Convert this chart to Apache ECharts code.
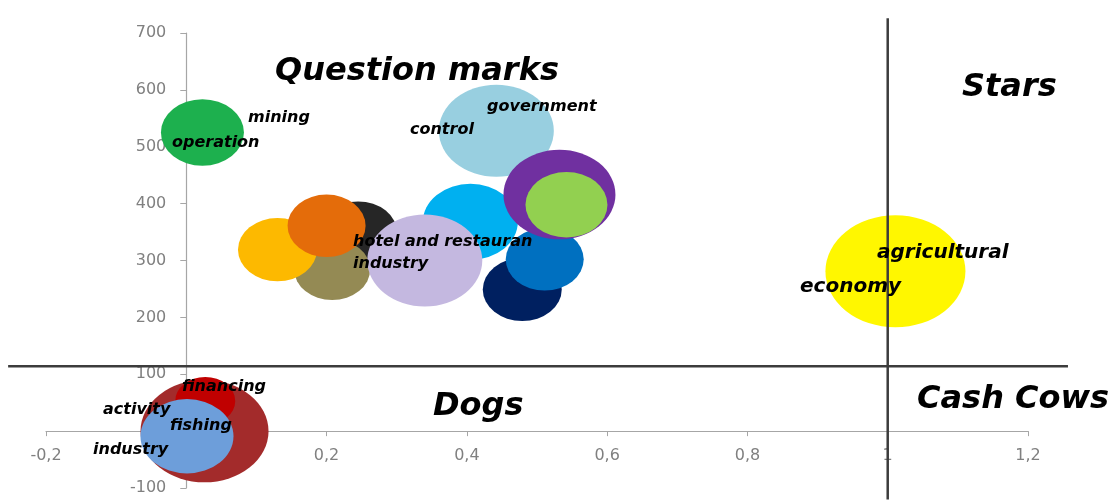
<!DOCTYPE html>
<html>
<head>
<meta charset="utf-8">
<script src="https://cdn.jsdelivr.net/npm/echarts@6/dist/echarts.min.js"></script>
<style>
html,body{margin:0;padding:0;background:#fff;}
#main{width:1114px;height:500px;}
</style>
</head>
<body>
<div id="main"></div>
<script>
// ---- data (drawn bottom to top) ----
const bubbleNames = [
  'government control', 'sector B', 'sector C', 'sector D', 'sector E', 'sector F',
  'sector G', 'sector H', 'sector I', 'sector J', 'hotel and restaurant industry',
  'mining operation', 'agricultural economy', 'financing activity', 'financing activity (2)', 'fishing industry'
];
const growthX = [0.442, 0.405, 0.479, 0.511, 0.532, 0.542, 0.245, 0.208, 0.130, 0.200, 0.340, 0.023, 1.011, 0.026, 0.027, 0.001];
const shareY  = [528, 368, 249, 302, 416, 398, 349, 284, 319, 361, 300, 525, 281, 0, 53, -9];
const bubbleSize = [115, 95, 79, 78, 112, 82, 78, 76, 79, 78, 115, 83, 140, 128, 60, 93];
const xTicks = [-0.2, 0, 0.2, 0.4, 0.6, 0.8, 1, 1.2];
const yTicks = [-100, 0, 100, 200, 300, 400, 500, 600, 700];
const quadrantY = 114;   // horizontal divider value
const quadrantX = 1;     // vertical divider value
const hLineXRange = [-0.254, 1.257];
const vLineYRange = [726, -120];

// ---- styles ----
const palette = ['#98CFE0', '#00B0F0', '#002060', '#0070C0', '#7030A0', '#92D050',
  '#262626', '#948A54', '#FDB900', '#E46C0A', '#C4B8E0', '#1DB04E', '#FFF700',
  '#A32B2B', '#C00000', '#6D9EDA'];
const aspect = 1.25;

const bubbleData = bubbleNames.map((n, i) => ({
  name: n,
  value: [growthX[i], shareY[i], bubbleSize[i]],
  itemStyle: { color: palette[i] }
}));

const texts = [
  ['Question marks', 275, 72, 'title'],
  ['Stars', 962, 88, 'title'],
  ['Dogs', 433, 407, 'title'],
  ['Cash Cows', 917, 400, 'title'],
  ['mining', 248, 118, 's'],
  ['operation', 172, 143, 's'],
  ['government', 487, 107, 's'],
  ['control', 410, 130, 's'],
  ['hotel and restauran', 353, 242, 's'],
  ['industry', 353, 264, 's'],
  ['agricultural', 877, 253, 'b'],
  ['economy', 800, 287, 'b'],
  ['financing', 182, 387, 's'],
  ['activity', 103, 410, 's'],
  ['fishing', 170, 426, 's'],
  ['industry', 93, 450, 's']
];
const fonts = {
  title: 'italic bold 32px "DejaVu Sans"',
  s: 'italic bold 16px "DejaVu Sans"',
  b: 'italic bold 20px "DejaVu Sans"'
};

const grid = { left: 46, right: 86, top: 33, bottom: 12, containLabel: false, outerBoundsMode: 'none' };
const chart = echarts.init(document.getElementById('main'), null, { renderer: 'canvas' });
const fmt = v => String(v).replace('.', ',');
const textGraphics = texts.map(t => ({
  type: 'text', x: t[1], y: t[2], z: 100,
  style: { text: t[0], font: fonts[t[3]], fill: '#000', verticalAlign: 'middle', align: 'left' }
}));
const option = {
  animation: false,
  backgroundColor: '#fff',
  grid: grid,
  xAxis: {
    type: 'value', min: xTicks[0], max: xTicks[xTicks.length - 1], interval: 0.2,
    offset: 0,
    axisLine: { onZero: false, lineStyle: { color: '#a6a6a6', width: 1.2 } },
    axisTick: { show: true, length: 5, lineStyle: { color: '#a6a6a6' } },
    axisLabel: { formatter: fmt, color: '#808080', fontSize: 16, fontFamily: 'DejaVu Sans', margin: 17 },
    splitLine: { show: false }
  },
  yAxis: {
    type: 'value', min: yTicks[0], max: yTicks[yTicks.length - 1], interval: 100,
    offset: 0,
    axisLine: { show: true, onZero: false, lineStyle: { color: '#a6a6a6', width: 1.2 } },
    axisTick: { show: true, length: 6, lineStyle: { color: '#a6a6a6' } },
    axisLabel: { color: '#808080', fontSize: 16, fontFamily: 'DejaVu Sans', margin: 20 },
    splitLine: { show: false }
  },
  series: [
    {
      type: 'scatter',
      data: bubbleData,
      symbol: 'circle',
      symbolSize: v => [v[2], v[2] / aspect],
      itemStyle: { opacity: 1 },
      z: 2
    }
  ],
  graphic: textGraphics
};
chart.setOption(option);
// move both axes (line, ticks and labels) onto the zero of the other axis
const zeroPx = chart.convertToPixel({ gridIndex: 0 }, [0, 0]);
const gridBottomPx = 500 - grid.bottom;
// quadrant divider lines, positioned through the chart's own scales
const h1 = chart.convertToPixel({ gridIndex: 0 }, [hLineXRange[0], quadrantY]);
const h2 = chart.convertToPixel({ gridIndex: 0 }, [hLineXRange[1], quadrantY]);
const v1 = chart.convertToPixel({ gridIndex: 0 }, [quadrantX, vLineYRange[0]]);
const v2 = chart.convertToPixel({ gridIndex: 0 }, [quadrantX, vLineYRange[1]]);
const lineStyle = { stroke: '#3c3c3c', lineWidth: 2.5 };
chart.setOption({
  xAxis: { offset: -(gridBottomPx - zeroPx[1]) },
  yAxis: { offset: -(zeroPx[0] - grid.left) },
  graphic: textGraphics.concat([
    { type: 'line', z: 50, shape: { x1: h1[0], y1: h1[1], x2: h2[0], y2: h2[1] }, style: lineStyle },
    { type: 'line', z: 50, shape: { x1: v1[0], y1: v1[1], x2: v2[0], y2: v2[1] }, style: lineStyle }
  ])
});
</script>
</body>
</html>
